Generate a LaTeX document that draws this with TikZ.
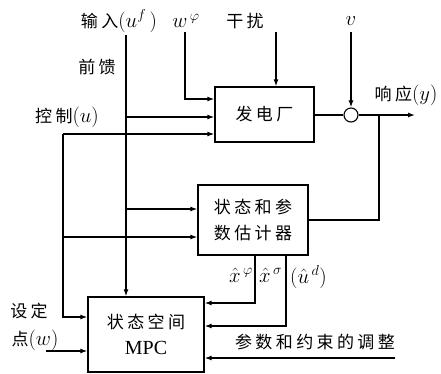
\documentclass[tikz,border=0pt]{standalone}
\usepackage{fontspec}
\setmainfont{Liberation Serif}
\newfontfamily\cjk[LetterSpace=20]{Noto Sans CJK SC}
\usetikzlibrary{positioning,shapes,arrows,calc,arrows.meta}
\newcommand{\zh}{\cjk\fontsize{17}{26}\selectfont}
\newcommand{\lat}{\rmfamily\fontsize{20}{26}\selectfont}
\tikzstyle{line} = [draw, line width=1.3pt, -{Latex[length=7pt,width=5pt]}]
\tikzstyle{wire} = [draw, line width=1.3pt]
\tikzstyle{block} = [rectangle, draw, line width=1.3pt, text centered, align=center, font=\zh, inner sep=0pt]
\tikzstyle{zh_text} = [inner sep=1pt, font=\zh]
\tikzstyle{math_text} = [inner sep=0pt, font=\lat]

\begin{document}
\begin{tikzpicture}[x=1pt, y=-1pt, font=\lat]
   \useasboundingbox (0,0) rectangle (441,373);

   % Blocks
   \node at (264.5, 114.5) [block, minimum width=99pt, minimum height=55pt] (plant) {发电厂};
   \node at (253, 220) [block, minimum width=110pt, minimum height=70pt] (estimator) {状态和参\\数估计器};
   \node at (146, 334.5) [block, minimum width=116pt, minimum height=75pt] (mpc) {状态空间\\{\lat MPC}};
   \node at (351, 115) [circle, draw, line width=1.1pt, minimum size=14pt, inner sep=0pt] (sum) {};

   % Labels
   \node at (119, 21) [zh_text] (input label) {输入{\lat$(u^{f}\,)$}};
   \node at (97, 67) [zh_text] (feed label) {前馈};
   \node at (67, 117) [zh_text] (ctrl label) {控制{\lat$(u)$}};
   \node at (186, 21) [math_text] (wphi label) {$w^{\,\varphi}$};
   \node at (245, 21) [zh_text] (dist label) {干扰};
   \node at (351, 21) [math_text] (v label) {$v$};
   \node at (406, 95) [zh_text] (output label) {响应{\lat$(y)$}};
   \node at (29, 311) [zh_text] (setpoint label) {设定};
   \node at (35, 340) [zh_text] (setpoint label w) {点{\lat$(w)$}};
   \node at (253, 275) [math_text, anchor=east] (xphi label) {$\hat{x}^{\,\varphi}$};
   \node at (259, 275) [math_text, anchor=west] (xsigma label) {$\hat{x}^{\,\sigma}$};
   \node at (290, 277) [math_text, anchor=west] (ud label) {$(\hat{u}^{\,d})$};
   \node at (315, 342) [zh_text] (tuning label) {参数和约束的调整};

   % Free ends and bends
   \coordinate (input top) at (126, 35);
   \coordinate (feed) at (126, 117);
   \coordinate (feed est) at (126, 209);
   \coordinate (wphi top) at (185, 32);
   \coordinate (wphi in) at (185, 99);
   \coordinate (dist top) at (276, 32);
   \coordinate (v top) at (351, 32);
   \coordinate (output) at (415, 115);
   \coordinate (tap) at (379, 115);
   \coordinate (ctrl) at (63, 134);
   \coordinate (ctrl est) at (63, 237);
   \coordinate (ctrl mpc) at (63, 317);
   \coordinate (setpoint) at (46, 351);
   \coordinate (xphi) at (255, 303);
   \coordinate (xsigma) at (286, 326);
   \coordinate (tuning) at (395, 358);

   % Plant side
   \path [line] (input top) -- (input top |- mpc.north);
   \path [line] (feed) -- (feed -| plant.west);
   \path [line] (wphi top) -- (wphi in) -- (wphi in -| plant.west);
   \path [line] (dist top) -- (dist top |- plant.north);
   \path [line] (v top) -- (sum.north);
   \path [wire] (plant.east |- sum.west) -- (sum.west);
   \path [line] (sum.east) -- (output);
   \path [wire] (tap) |- (estimator.east);

   % Control
   \path [line] (ctrl) -- (ctrl -| plant.west);
   \path [line] (ctrl) -- (ctrl mpc) -- (ctrl mpc -| mpc.west);
   \path [line] (feed est) -- (feed est -| estimator.west);
   \path [line] (ctrl est) -- (ctrl est -| estimator.west);
   \path [line] (setpoint) -- (setpoint -| mpc.west);

   % Estimates and tuning
   \path [line] (xphi |- estimator.south) -- (xphi) -- (xphi -| mpc.east);
   \path [line] (xsigma |- estimator.south) -- (xsigma) -- (xsigma -| mpc.east);
   \path [line] (tuning) -- (tuning -| mpc.east);
\end{tikzpicture}
\end{document}
